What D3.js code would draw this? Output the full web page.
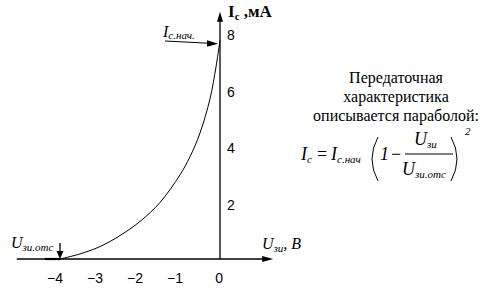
<!DOCTYPE html>
<html>
<head>
<meta charset="utf-8">
<script src="https://cdn.jsdelivr.net/npm/d3@7"></script>
<style>
  body { margin: 0; background: #fff; }
  text { fill: #000; }
</style>
</head>
<body>
<div id="root"></div>
<script>
const width = 488;
const height = 295;

// transfer characteristic
const uValues = [-4, -3.5, -3, -2.5, -2, -1.5, -1, -0.75, -0.5, -0.25, -0.1, 0];
const icValues = [0, 0.18, 0.44, 0.83, 1.33, 2.0, 2.98, 3.62, 4.46, 5.67, 6.8, 7.75];
const xTicks = [-4, -3, -2, -1, 0];
const yTicks = [2, 4, 6, 8];
const xExtent = [-5.08, 1.33];
const yExtent = [0, 8.75];
const noteLines = ['Передаточная', 'характеристика', 'описывается параболой:'];

const x = d3.scaleLinear().domain([-4, 0]).range([60, 220]);
const y = d3.scaleLinear().domain([0, 8]).range([259, 33]);

const svg = d3.select('#root')
    .append('svg')
    .attr('width', width)
    .attr('height', height);

const serif = '"Liberation Serif", "Times New Roman", serif';
const sans = '"Liberation Sans", Arial, sans-serif';

// arrow heads
function arrowHead(tipX, tipY, dir, len, half) {
    let pts;
    if (dir === 'right') pts = [[tipX, tipY], [tipX - len, tipY - half], [tipX - len, tipY + half]];
    else if (dir === 'up') pts = [[tipX, tipY], [tipX - half, tipY + len], [tipX + half, tipY + len]];
    else if (dir === 'down') pts = [[tipX, tipY], [tipX - half, tipY - len], [tipX + half, tipY - len]];
    svg.append('path')
        .attr('d', 'M' + pts.map(p => p.join(',')).join('L') + 'Z')
        .attr('fill', '#000');
}

// x axis
svg.append('line')
    .attr('x1', x(xExtent[0])).attr('x2', x(xExtent[1]) - 6)
    .attr('y1', y(0)).attr('y2', y(0))
    .attr('stroke', '#000').attr('stroke-width', 1.3);
arrowHead(x(xExtent[1]), y(0), 'right', 11, 3);

// y axis
svg.append('line')
    .attr('x1', x(0)).attr('x2', x(0))
    .attr('y1', y(0)).attr('y2', y(yExtent[1]) + 6)
    .attr('stroke', '#000').attr('stroke-width', 1.3);
arrowHead(x(0), y(yExtent[1]), 'up', 10, 3);

// tick labels
svg.selectAll('.xt')
    .data(xTicks)
    .join('text')
    .attr('class', 'xt')
    .attr('x', d => x(d) + 3)
    .attr('y', y(0) + 24)
    .attr('text-anchor', 'end')
    .attr('font-family', sans)
    .attr('font-size', 14)
    .text(d => d < 0 ? '\u2212' + Math.abs(d) : d);

svg.selectAll('.yt')
    .data(yTicks)
    .join('text')
    .attr('class', 'yt')
    .attr('x', x(0) + 7)
    .attr('y', d => y(d) + 7)
    .attr('font-family', sans)
    .attr('font-size', 14)
    .text(d => d);

// curve
const line = d3.line()
    .x((d, i) => x(uValues[i]))
    .y(d => y(d))
    .curve(d3.curveCatmullRom.alpha(0.5));

svg.append('path')
    .datum(icValues)
    .attr('d', line)
    .attr('fill', 'none')
    .attr('stroke', '#000')
    .attr('stroke-width', 1);

// axis titles
const yTitle = svg.append('text')
    .attr('x', 228).attr('y', 17)
    .attr('font-family', serif)
    .attr('font-weight', 'bold')
    .attr('font-size', 17);
yTitle.append('tspan').text('I');
yTitle.append('tspan').attr('font-size', 11).attr('dy', 3).text('c');
yTitle.append('tspan').attr('dy', -3).text(' ,мА');

const xTitle = svg.append('text')
    .attr('x', 262).attr('y', 249)
    .attr('font-family', serif)
    .attr('font-style', 'italic')
    .attr('font-size', 16);
xTitle.append('tspan').text('U');
xTitle.append('tspan').attr('font-size', 11).attr('dy', 3).text('зи');
xTitle.append('tspan').attr('dy', -3).text(', B');

// I с.нач label with arrow
const iLabel = svg.append('text')
    .attr('x', 163).attr('y', 37)
    .attr('font-family', serif)
    .attr('font-style', 'italic')
    .attr('font-size', 16);
iLabel.append('tspan').text('I');
iLabel.append('tspan').attr('font-size', 11).attr('dy', 2).text('с.нач.');
svg.append('line')
    .attr('x1', 165).attr('y1', 41)
    .attr('x2', 208).attr('y2', 43.2)
    .attr('stroke', '#000');
svg.append('path')
    .attr('d', 'M218,43.7L207,40.2L207,46.7Z')
    .attr('fill', '#000');

// U зи.отс label with arrow
const uLabel = svg.append('text')
    .attr('x', 11).attr('y', 248)
    .attr('font-family', serif)
    .attr('font-style', 'italic')
    .attr('font-size', 16);
uLabel.append('tspan').text('U');
uLabel.append('tspan').attr('font-size', 11).attr('dy', 3).text('зи.отс');
svg.append('line')
    .attr('x1', x(-4)).attr('x2', x(-4))
    .attr('y1', 243).attr('y2', 252)
    .attr('stroke', '#000').attr('stroke-width', 1.3);
arrowHead(x(-4), y(0), 'down', 8, 3.5);
svg.append('line')
    .attr('x1', 45).attr('x2', x(-4))
    .attr('y1', y(0)).attr('y2', y(0))
    .attr('stroke', '#000').attr('stroke-width', 2.2);

// note
svg.selectAll('.note')
    .data(noteLines)
    .join('text')
    .attr('class', 'note')
    .attr('x', 396)
    .attr('y', (d, i) => 83 + i * 19)
    .attr('text-anchor', 'middle')
    .attr('font-family', serif)
    .attr('font-size', 16)
    .text(d => d);

// formula
const f = svg.append('g')
    .attr('font-family', serif)
    .attr('font-style', 'italic');
const t1 = f.append('text').attr('x', 301).attr('y', 160).attr('font-size', 18);
t1.append('tspan').text('I');
t1.append('tspan').attr('font-size', 11).attr('dy', 3).text('с');
f.append('text').attr('x', 317).attr('y', 160).attr('font-size', 18)
    .attr('font-style', 'normal').text('=');
const t2 = f.append('text').attr('x', 331).attr('y', 160).attr('font-size', 18);
t2.append('tspan').text('I');
t2.append('tspan').attr('font-size', 11).attr('dy', 3).text('с.нач');
// thin parentheses
f.append('path')
    .attr('d', 'M378,137Q366,159 378,181')
    .attr('fill', 'none').attr('stroke', '#000').attr('stroke-width', 1);
f.append('path')
    .attr('d', 'M451,137Q463,159 451,181')
    .attr('fill', 'none').attr('stroke', '#000').attr('stroke-width', 1);
f.append('text').attr('x', 380).attr('y', 160).attr('font-size', 18).text('1');
f.append('text').attr('x', 391).attr('y', 160).attr('font-size', 18)
    .attr('font-style', 'normal').text('\u2212');
const num = f.append('text').attr('x', 414).attr('y', 145).attr('font-size', 18);
num.append('tspan').text('U');
num.append('tspan').attr('font-size', 11).attr('dy', 3).text('зи');
f.append('line')
    .attr('x1', 405).attr('x2', 453)
    .attr('y1', 154).attr('y2', 154)
    .attr('stroke', '#000');
const den = f.append('text').attr('x', 402).attr('y', 175).attr('font-size', 18);
den.append('tspan').text('U');
den.append('tspan').attr('font-size', 11).attr('dy', 3).text('зи.отс');
f.append('text').attr('x', 465).attr('y', 135).attr('font-size', 11).text('2');
</script>
</body>
</html>
